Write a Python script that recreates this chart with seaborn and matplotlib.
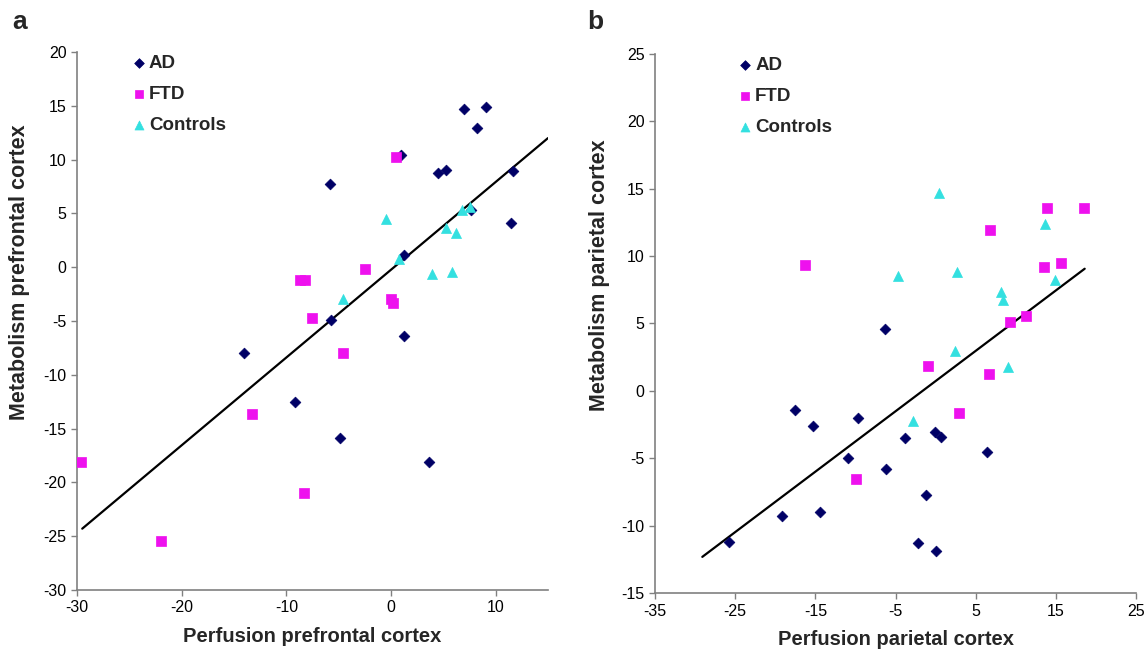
import numpy as np
import pandas as pd
import matplotlib
matplotlib.use("Agg")
import matplotlib.pyplot as plt
import seaborn as sns

# ---------------- data: panel a (prefrontal) ----------------
a_ad_x = [7.0, 9.1, 8.26, 0.96, 4.5, 5.3, 11.7, -5.8, 7.66, 11.45, 1.27, -5.74, 1.27, -14.0, -9.15, -4.85, 3.6]
a_ad_y = [14.66, 14.9, 12.9, 10.4, 8.8, 9.0, 8.95, 7.75, 5.36, 4.15, 1.14, -4.93, -6.4, -8.0, -12.5, -15.9, -18.1]
a_ftd_x = [0.48, -8.7, -8.2, -7.56, -2.5, 0.0, 0.2, -4.56, -13.3, -29.6, -8.35, -22.0]
a_ftd_y = [10.2, -1.2, -1.2, -4.68, -0.15, -3.0, -3.3, -7.93, -13.6, -18.1, -21.0, -25.4]
a_ctl_x = [-0.5, 6.8, 7.5, 5.3, 6.2, 0.77, 3.92, 5.8, -4.6]
a_ctl_y = [4.5, 5.3, 5.55, 3.65, 3.2, 0.74, -0.59, -0.43, -3.0]
a_fit_x = [-29.5, 15.0]
a_fit_y = [-24.3, 12.0]

# ---------------- data: panel b (parietal) ----------------
b_ad_x = [-6.32, -17.5, -15.3, -9.63, -3.87, -10.96, -6.15, -0.1, 0.7, -1.21, -14.45, -19.1, -25.8, -2.25, 0.03, 6.47]
b_ad_y = [4.58, -1.43, -2.58, -2.0, -3.52, -4.98, -5.82, -3.07, -3.44, -7.75, -9.0, -9.29, -11.17, -11.27, -11.84, -4.5]
b_ftd_x = [13.9, 18.55, 6.84, 13.57, 15.6, 11.3, 9.3, -0.96, 6.72, 2.86, -9.93, -16.3]
b_ftd_y = [13.57, 13.57, 11.94, 9.19, 9.46, 5.57, 5.13, 1.86, 1.26, -1.66, -6.56, 9.3]
b_ctl_x = [0.41, 13.65, -4.7, 2.65, 8.2, 8.37, 14.9, 2.48, 9.0, -2.78]
b_ctl_y = [14.69, 12.38, 8.49, 8.82, 7.33, 6.74, 8.22, 2.95, 1.78, -2.23]
b_fit_x = [-29.1, 18.6]
b_fit_y = [-12.3, 9.06]

groups = ["AD", "FTD", "Controls"]
palette = {"AD": "#000066", "FTD": "#ee11ee", "Controls": "#33e0e0"}
markers = {"AD": "D", "FTD": "s", "Controls": "^"}
sizes_pt = {"AD": 30, "FTD": 48, "Controls": 52}


def make_df(adx, ady, fx, fy, cx, cy):
    return pd.DataFrame({
        "x": adx + fx + cx,
        "y": ady + fy + cy,
        "group": ["AD"] * len(adx) + ["FTD"] * len(fx) + ["Controls"] * len(cx),
    })


df_a = make_df(a_ad_x, a_ad_y, a_ftd_x, a_ftd_y, a_ctl_x, a_ctl_y)
df_b = make_df(b_ad_x, b_ad_y, b_ftd_x, b_ftd_y, b_ctl_x, b_ctl_y)

sns.set_theme(style="white")
plt.rcParams["font.family"] = ["Liberation Sans", "DejaVu Sans"]
plt.rcParams["axes.unicode_minus"] = False

fig = plt.figure(figsize=(11.48, 6.61), dpi=100)
ax1 = fig.add_axes([77 / 1148, 1 - 590 / 661, (548 - 77) / 1148, (590 - 52) / 661])
ax2 = fig.add_axes([655 / 1148, 1 - 593.3 / 661, (1136 - 655) / 1148, (593.3 - 53.7) / 661])


def draw(ax, df, fx, fy, xlim, ylim, xticks, yticks, xlabel, ylabel, ylab_x):
    for g in groups:
        sub = df[df["group"] == g]
        sns.scatterplot(data=sub, x="x", y="y", ax=ax, color=palette[g], marker=markers[g],
                        s=sizes_pt[g], edgecolor=palette[g], linewidth=0.5, label=g, zorder=3)
    sns.lineplot(x=fx, y=fy, ax=ax, color="black", linewidth=1.6, zorder=2, legend=False)
    ax.set_xlim(*xlim)
    ax.set_ylim(*ylim)
    ax.set_xticks(xticks)
    ax.set_yticks(yticks)
    for s in ["top", "right"]:
        ax.spines[s].set_visible(False)
    for s in ["left", "bottom"]:
        ax.spines[s].set_color("#808080")
        ax.spines[s].set_linewidth(1.2)
    ax.tick_params(axis="both", which="both", direction="out", length=4, width=1,
                   color="#808080", labelsize=11.5, labelcolor="black", bottom=True, left=True)
    ax.set_xlabel(xlabel, fontsize=14.5, fontweight="bold", labelpad=8)
    ax.set_ylabel(ylabel, fontsize=15.5, fontweight="bold")
    ax.yaxis.set_label_coords(ylab_x, 0.59)


draw(ax1, df_a, a_fit_x, a_fit_y, (-30, 15), (-30, 20), np.arange(-30, 11, 10), np.arange(-30, 21, 5),
     "Perfusion prefrontal cortex", "Metabolism prefrontal cortex", -(77 - 20) / 471)
draw(ax2, df_b, b_fit_x, b_fit_y, (-35, 25), (-15, 25), np.arange(-35, 26, 10), np.arange(-15, 26, 5),
     "Perfusion parietal cortex", "Metabolism parietal cortex", -(655 - 600) / 481)
ax1.yaxis.label.set_verticalalignment("center")
ax2.yaxis.label.set_verticalalignment("center")

for ax, loc in [(ax1, (0.115, 0.995)), (ax2, (0.171, 0.995))]:
    leg = ax.legend(loc="upper left", bbox_to_anchor=loc, frameon=False, fontsize=13.5,
                    handletextpad=0.15, labelspacing=0.74, borderaxespad=0.0, borderpad=0.0,
                    handlelength=0.8, markerscale=0.9)
    for t in leg.get_texts():
        t.set_fontweight("bold")

fig.text(12 / 1148, 1 - 22 / 661, "a", fontsize=19, fontweight="bold", va="center")
fig.text(587 / 1148, 1 - 22 / 661, "b", fontsize=19, fontweight="bold", va="center")

fig.savefig("out.png", dpi=100)
